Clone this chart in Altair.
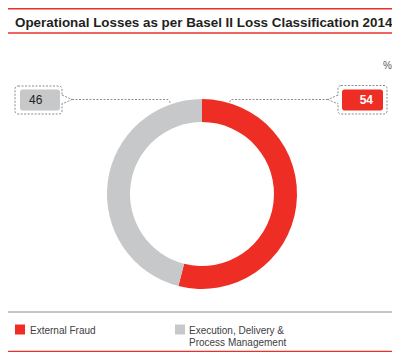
import altair as alt
import pandas as pd

# ---- data ----
categories = ["External Fraud", "Execution, Delivery & Process Management"]
shares = [54, 46]
colors = ["#ee2e24", "#c7c8ca"]
legend_labels = ["External Fraud", "Execution, Delivery &\nProcess Management"]
title_text = "Operational Losses as per Basel II Loss Classification 2014"
unit_text = "%"

df = pd.DataFrame({"category": categories, "share": shares, "legend": legend_labels})

# ---- layout ----
W, H = 384, 344
FONT = "Liberation Sans, Arial, Helvetica, sans-serif"
RED_LINE = "#e8302a"
DASH_COL = "#6d6e71"
TXT = "#231f20"
color_scale = alt.Scale(domain=categories, range=colors)
one = alt.Data(values=[{}])


def rule(x1, x2, y, color, w):
    return alt.Chart(one).mark_rule(color=color, strokeWidth=w).encode(
        x=alt.value(x1), x2=alt.value(x2), y=alt.value(y))


def box(x1, x2, y1, y2, **kw):
    return alt.Chart(one).mark_rect(**kw).encode(
        x=alt.value(x1), x2=alt.value(x2), y=alt.value(y1), y2=alt.value(y2))


def path(points):
    vals = [{"px": p[0], "py": p[1], "i": k} for k, p in enumerate(points)]
    return alt.Chart(alt.Data(values=vals)).mark_line(
        color=DASH_COL, strokeWidth=0.8, strokeDash=[2, 1.5]).encode(
        x=alt.X("px:Q", scale=None, axis=None),
        y=alt.Y("py:Q", scale=None, axis=None),
        order="i:Q")


def label(x, y, text, **kw):
    return alt.Chart(one).mark_text(text=text, font=FONT, **kw).encode(
        x=alt.value(x), y=alt.value(y))


base = alt.Chart(df)

donut = base.transform_window(rank="row_number()").mark_arc(
    radius=95, radius2=72).encode(
    theta=alt.Theta("share:Q", stack=True),
    order=alt.Order("rank:Q"),
    color=alt.Color("category:N", scale=color_scale, legend=None),
    x=alt.value(194), y=alt.value(186))

cat0 = "datum.category == '%s'" % categories[0]
cat1 = "datum.category == '%s'" % categories[1]

# callouts
left_box = box(7, 54, 78, 106, filled=False, stroke=DASH_COL, strokeWidth=0.8,
               strokeDash=[2, 1.5], cornerRadius=3)
left_cover = box(53, 55.5, 87.5, 95.5, color="white")
left_notch = path([(54, 87), (64, 91.5), (54, 96)])
left_conn = path([(64, 91.5), (160, 91.5), (162.5, 95)])
left_fill = box(12, 52, 81.5, 102.5, color=colors[1], cornerRadius=2.5)
left_text = base.transform_filter(cat1).mark_text(
    font=FONT, fontSize=12, color=TXT, align="left", baseline="middle").encode(
    text="share:Q", x=alt.value(21), y=alt.value(92))

right_box = box(330, 379, 77.5, 106, filled=False, stroke=DASH_COL, strokeWidth=0.8,
                strokeDash=[2, 1.5], cornerRadius=3)
right_cover = box(328.5, 331, 87.5, 95.5, color="white")
right_notch = path([(330, 87), (320, 91.5), (330, 96)])
right_conn = path([(320, 91.5), (223, 91.5), (221, 95)])
right_fill = box(334, 375, 81.5, 102.5, color=colors[0], cornerRadius=2.5)
right_text = base.transform_filter(cat0).mark_text(
    font=FONT, fontSize=12, fontWeight="bold", color="white", align="right",
    baseline="middle").encode(
    text="share:Q", x=alt.value(365), y=alt.value(92))

# header
top_line = rule(0, 384, 0.75, RED_LINE, 1.5)
title = label(7, 19, title_text, fontSize=13.4, fontWeight="bold", color=TXT,
              align="left", baseline="alphabetic")
title_line = rule(0, 384, 25, RED_LINE, 1.5)
unit = label(384, 61, unit_text, fontSize=10, color="#58595b", align="right",
             baseline="alphabetic")

# legend
legend_line = rule(0, 384, 304, "#8a8a8a", 1)
bottom_line = rule(0, 384, 343.5, RED_LINE, 1.5)
sq0 = base.transform_filter(cat0).mark_square(size=100, opacity=1).encode(
    color=alt.Color("category:N", scale=color_scale, legend=None),
    x=alt.value(12), y=alt.value(321.5))
sq1 = base.transform_filter(cat1).mark_square(size=100, opacity=1).encode(
    color=alt.Color("category:N", scale=color_scale, legend=None),
    x=alt.value(172), y=alt.value(321.5))
lt0 = base.transform_filter(cat0).mark_text(
    font=FONT, fontSize=10, color="#414042", align="left", baseline="top",
    lineBreak="\n", lineHeight=12.5).encode(
    text="legend:N", x=alt.value(22), y=alt.value(317.5))
lt1 = base.transform_filter(cat1).mark_text(
    font=FONT, fontSize=10, color="#414042", align="left", baseline="top",
    lineBreak="\n", lineHeight=12.5).encode(
    text="legend:N", x=alt.value(181), y=alt.value(317.5))

chart = alt.layer(
    top_line, title, title_line, unit,
    donut,
    left_box, left_cover, left_notch, left_conn, left_fill, left_text,
    right_box, right_cover, right_notch, right_conn, right_fill, right_text,
    legend_line, bottom_line, sq0, sq1, lt0, lt1,
).properties(
    width=W, height=H, padding=0, autosize=alt.AutoSizeParams(type="none")
).configure_view(stroke=None)

chart.save("out.html", embed_options={"renderer": "svg", "actions": False})
